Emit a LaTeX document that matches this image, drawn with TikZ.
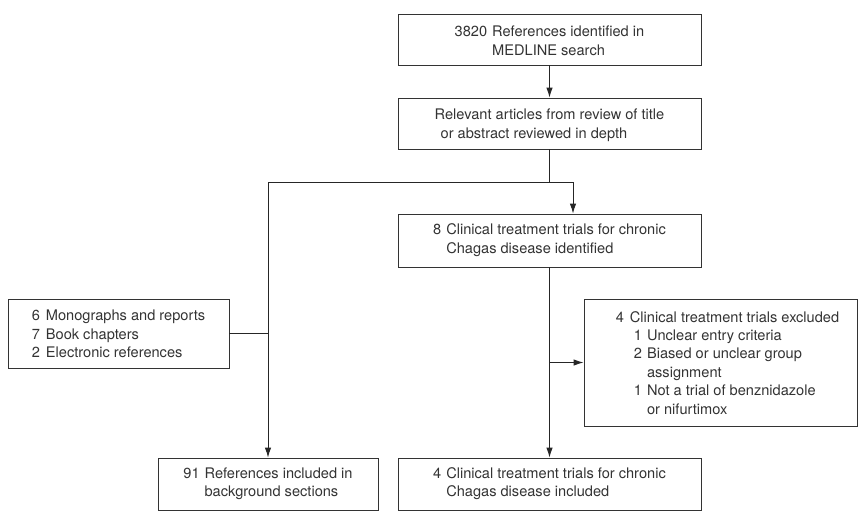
\documentclass[tikz,border=0pt]{standalone}
\usepackage{fontspec}
\setmainfont{TeX Gyre Heros}
\usepackage{tikz}
\usetikzlibrary{arrows.meta,shapes}
\tikzstyle{box}=[draw=black!80,line width=0.9pt,rectangle,inner sep=0pt,font=\fontsize{14.6}{18.4}\selectfont,text=black!80]
\tikzstyle{edge} = [draw,line width=0.9pt,black!85,-]
\tikzstyle{arrow} = [draw,line width=0.9pt,black!85,-{Latex[length=10pt,width=6.5pt]}]

\begin{document}
\begin{tikzpicture}[x=1pt,y=-1pt]
    \useasboundingbox (0,0) rectangle (859,520);
    % Draw the search flow chart
    % First we draw the boxes
    \node[box,minimum width=303pt,minimum height=51pt] (search) at (549.5,39.5)
        {\raisebox{-3pt}[\height][\depth]{\begin{tabular}{@{}l@{\hspace{5pt}}l@{}}3820 & References identified in\\ & MEDLINE search\end{tabular}}};
    \node[box,minimum width=303pt,minimum height=51pt] (review) at (549.5,123.5)
        {\raisebox{-2pt}[\height][\depth]{\begin{tabular}{@{}l@{}}Relevant articles from review of title\\ \hspace{6pt}or abstract reviewed in depth\end{tabular}}};
    \node[box,minimum width=303pt,minimum height=53pt] (trials) at (549.5,240.5)
        {\begin{tabular}{@{}l@{\hspace{5pt}}l@{}}8 & Clinical treatment trials for chronic\\ & Chagas disease identified\end{tabular}};
    \node[box,minimum width=303pt,minimum height=52pt] (included) at (549.5,484)
        {\begin{tabular}{@{}l@{\hspace{5pt}}l@{}}4 & Clinical treatment trials for chronic\\ & Chagas disease included\end{tabular}};
    \node[box,minimum width=221pt,minimum height=69pt] (mono) at (118.5,333.5)
        {\raisebox{-2pt}[\height][\depth]{\begin{tabular}{@{}l@{\hspace{6pt}}l@{}}6 & Monographs and reports\\ 7 & Book chapters\\ 2 & Electronic references\end{tabular}}};
    \node[box,minimum width=220pt,minimum height=52pt] (background) at (268,484)
        {\begin{tabular}{@{}l@{\hspace{5pt}}l@{}}91 & References included in\\ & background sections\end{tabular}};
    \node[box,minimum width=273pt,minimum height=127pt] (excluded) at (720.5,362.5)
        {\hspace{14pt}\raisebox{-2pt}[\height][\depth]{\begin{tabular}{@{}l@{\hspace{6pt}}l@{\hspace{5pt}}l@{}}4 & \multicolumn{2}{@{}l@{}}{Clinical treatment trials excluded}\\
         & \hspace{4pt}1 & Unclear entry criteria\\
         & \hspace{4pt}2 & Biased or unclear group\\
         & & assignment\\
         & \hspace{4pt}1 & Not a trial of benznidazole\\
         & & or nifurtimox\end{tabular}}};
    % Points where the lines split
    \coordinate (fork) at (549.5,182);
    \coordinate (forkL) at (268,182);
    \coordinate (forkR) at (573,182);
    \coordinate (branch) at (549.5,362.5);
    % Connect boxes with lines
    \path[edge] (review) -- (fork);
    \path[edge] (forkL) -- (forkR);
    \path[edge] (mono.east) -- (mono.east -| forkL);
    \path[arrow] (forkR) -- (forkR |- trials.north);
    \foreach \source/\dest in {search/review, trials/included, forkL/background, branch/excluded}
        \path[arrow] (\source) -- (\dest);
\end{tikzpicture}
\end{document}
